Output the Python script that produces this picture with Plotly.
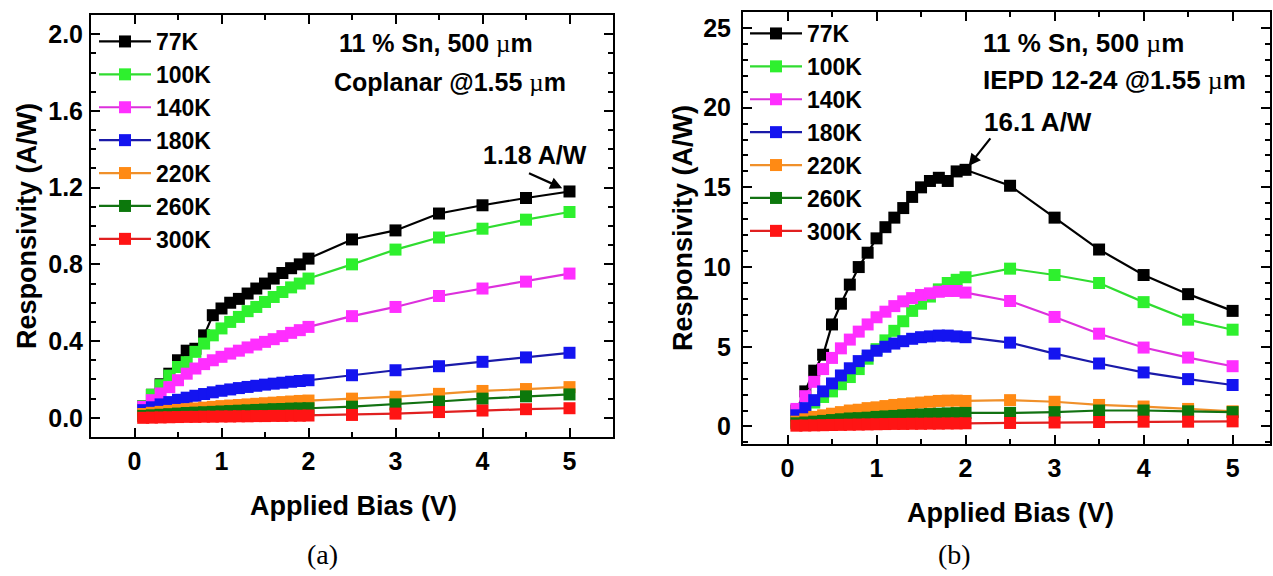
import plotly.graph_objects as go

# ---------------- data ----------------
bias = [0.1, 0.2, 0.3, 0.4, 0.5, 0.6, 0.7, 0.8, 0.9, 1.0,
        1.1, 1.2, 1.3, 1.4, 1.5, 1.6, 1.7, 1.8, 1.9, 2.0,
        2.5, 3.0, 3.5, 4.0, 4.5, 5.0]
temps = ["77K", "100K", "140K", "180K", "220K", "260K", "300K"]

# (a) Coplanar, responsivity (A/W)
a_77K = [0.06, 0.12, 0.175, 0.23, 0.30, 0.35, 0.36, 0.43, 0.535, 0.57,
         0.60, 0.62, 0.648, 0.674, 0.70, 0.726, 0.755, 0.78, 0.80, 0.83,
         0.93, 0.977, 1.065, 1.108, 1.146, 1.18]
a_100K = [0.06, 0.12, 0.17, 0.22, 0.265, 0.29, 0.344, 0.387, 0.43, 0.466,
          0.50, 0.526, 0.556, 0.578, 0.604, 0.63, 0.656, 0.68, 0.70, 0.726,
          0.80, 0.877, 0.94, 0.986, 1.033, 1.073]
a_140K = [0.057, 0.092, 0.127, 0.16, 0.196, 0.23, 0.257, 0.28, 0.30, 0.318,
          0.335, 0.35, 0.367, 0.382, 0.396, 0.41, 0.426, 0.443, 0.457, 0.474,
          0.53, 0.578, 0.635, 0.674, 0.71, 0.752]
a_180K = [0.04, 0.055, 0.07, 0.082, 0.094, 0.105, 0.115, 0.124, 0.133, 0.141,
          0.148, 0.155, 0.161, 0.167, 0.173, 0.178, 0.183, 0.188, 0.192, 0.196,
          0.222, 0.248, 0.269, 0.292, 0.315, 0.339]
a_220K = [0.02, 0.026, 0.031, 0.036, 0.041, 0.045, 0.049, 0.053, 0.057, 0.061,
          0.064, 0.067, 0.070, 0.073, 0.076, 0.079, 0.082, 0.085, 0.088, 0.09,
          0.10, 0.11, 0.125, 0.14, 0.15, 0.16]
a_260K = [0.01, 0.013, 0.016, 0.019, 0.022, 0.025, 0.027, 0.029, 0.031, 0.033,
          0.035, 0.037, 0.039, 0.041, 0.043, 0.045, 0.046, 0.048, 0.049, 0.05,
          0.058, 0.07, 0.085, 0.10, 0.112, 0.122]
a_300K = [0.0, 0.001, 0.002, 0.003, 0.004, 0.005, 0.005, 0.006, 0.006, 0.007,
          0.007, 0.008, 0.008, 0.009, 0.009, 0.01, 0.01, 0.011, 0.011, 0.012,
          0.015, 0.022, 0.03, 0.038, 0.045, 0.05]

# (b) IEPD 12-24, responsivity (A/W)
b_77K = [1.0, 2.2, 3.5, 4.5, 6.4, 7.7, 8.9, 10.0, 10.9, 11.8,
         12.5, 13.1, 13.7, 14.4, 15.0, 15.4, 15.6, 15.4, 16.0, 16.1,
         15.1, 13.1, 11.1, 9.5, 8.3, 7.25]
b_100K = [0.7, 1.1, 1.5, 1.85, 2.2, 2.65, 3.1, 3.6, 4.25, 4.85,
          5.4, 6.0, 6.6, 7.25, 7.7, 8.15, 8.6, 9.0, 9.2, 9.36,
          9.9, 9.5, 9.0, 7.8, 6.7, 6.07]
b_140K = [1.1, 1.9, 2.8, 3.6, 4.3, 4.9, 5.45, 5.95, 6.4, 6.85,
          7.2, 7.55, 7.85, 8.05, 8.25, 8.35, 8.45, 8.5, 8.5, 8.4,
          7.87, 6.87, 5.82, 4.95, 4.32, 3.78]
b_180K = [0.7, 1.15, 1.65, 2.2, 2.7, 3.2, 3.65, 4.1, 4.45, 4.75,
          5.0, 5.2, 5.35, 5.5, 5.6, 5.65, 5.7, 5.7, 5.65, 5.6,
          5.26, 4.57, 3.95, 3.39, 2.97, 2.6]
b_220K = [0.3, 0.45, 0.6, 0.7, 0.8, 0.9, 1.0, 1.05, 1.15, 1.2,
          1.28, 1.35, 1.4, 1.45, 1.5, 1.55, 1.6, 1.62, 1.62, 1.6,
          1.65, 1.55, 1.35, 1.25, 1.1, 0.95]
b_260K = [0.2, 0.25, 0.3, 0.35, 0.4, 0.45, 0.5, 0.52, 0.55, 0.6,
          0.63, 0.66, 0.7, 0.72, 0.75, 0.78, 0.8, 0.82, 0.84, 0.85,
          0.85, 0.9, 1.0, 1.0, 0.95, 0.9]
b_300K = [0.05, 0.06, 0.07, 0.08, 0.09, 0.1, 0.11, 0.12, 0.13, 0.14,
          0.15, 0.16, 0.16, 0.17, 0.17, 0.18, 0.18, 0.19, 0.19, 0.2,
          0.22, 0.25, 0.28, 0.3, 0.3, 0.32]

x_ticks = [0, 1, 2, 3, 4, 5]
ya_ticks = [0.0, 0.4, 0.8, 1.2, 1.6, 2.0]
yb_ticks = [0, 5, 10, 15, 20, 25]

# ---------------- style ----------------
marker_colors = ["#000000", "#2EF02E", "#FF2EFF", "#1414F0", "#FF8A14", "#0C780C", "#FF1414"]
line_colors = ["#000000", "#30DC30", "#DC30DC", "#1A1AA8", "#F0902A", "#127212", "#E02020"]
SANS = "Liberation Sans, Arial, sans-serif"
SERIF = "Liberation Serif, Times New Roman, serif"

W, H = 1273, 576
def px(xp):
    return xp / W
def py(yp):
    return 1 - yp / H

panel_a = [a_77K, a_100K, a_140K, a_180K, a_220K, a_260K, a_300K]
panel_b = [b_77K, b_100K, b_140K, b_180K, b_220K, b_260K, b_300K]

fig = go.Figure()
for i, (name, ys) in enumerate(zip(temps, panel_a)):
    fig.add_trace(go.Scatter(
        x=bias, y=ys, name=name, mode="lines+markers",
        line=dict(color=line_colors[i], width=2.2),
        marker=dict(symbol="square", size=12, color=marker_colors[i], line=dict(width=0)),
        xaxis="x", yaxis="y", legend="legend"))
for i, (name, ys) in enumerate(zip(temps, panel_b)):
    fig.add_trace(go.Scatter(
        x=bias, y=ys, name=name, mode="lines+markers",
        line=dict(color=line_colors[i], width=2.2),
        marker=dict(symbol="square", size=12, color=marker_colors[i], line=dict(width=0)),
        xaxis="x2", yaxis="y2", legend="legend2"))

tickfont = dict(family=SANS, size=25, color="black", weight="bold")
common = dict(showline=True, linecolor="black", linewidth=2, mirror="ticks",
              ticks="inside", ticklen=9, tickwidth=2, tickcolor="black",
              showgrid=False, zeroline=False, tickfont=tickfont)
legfont = dict(family=SANS, size=23, color="black", weight="bold")
minor_x = dict(dtick=0.5, tick0=0, ticks="inside", ticklen=5, tickwidth=2, tickcolor="black")

fig.update_layout(
    width=W, height=H, margin=dict(l=0, r=0, t=0, b=0),
    paper_bgcolor="white", plot_bgcolor="white",
    xaxis=dict(domain=[px(91), px(613)], range=[-0.5, 5.5], anchor="y",
               tickvals=x_ticks, ticklabelstandoff=1, minor=minor_x, **common),
    yaxis=dict(domain=[py(437), py(15)], range=[-0.1, 2.1], anchor="x",
               tickvals=ya_ticks, tickformat=".1f", ticklabelstandoff=1,
               minor=dict(dtick=0.1, tick0=0, ticks="inside", ticklen=5, tickwidth=2, tickcolor="black"),
               **common),
    xaxis2=dict(domain=[px(743), px(1270)], range=[-0.5, 5.42], anchor="y2",
                tickvals=x_ticks, ticklabelstandoff=1, minor=minor_x, **common),
    yaxis2=dict(domain=[py(444), py(12)], range=[-1.1, 26], anchor="x2",
                tickvals=yb_ticks, ticklabelstandoff=5,
                minor=dict(dtick=1, tick0=0, ticks="inside", ticklen=5, tickwidth=2, tickcolor="black"),
                **common),
    legend=dict(x=px(94), y=py(20), xanchor="left", yanchor="top",
                bgcolor="rgba(0,0,0,0)", itemwidth=52, tracegroupgap=0, font=legfont),
    legend2=dict(x=px(745), y=py(12), xanchor="left", yanchor="top",
                 bgcolor="rgba(0,0,0,0)", itemwidth=52, tracegroupgap=0, font=legfont),
    showlegend=True,
)

mu = '<span style="font-family:Liberation Serif;font-weight:normal">µ</span>'
bold = dict(family=SANS, color="black", weight="bold")

def label(text, xp, yp, size, xanchor="center", angle=0, font=None):
    return dict(text=text, x=px(xp), y=py(yp), xref="paper", yref="paper",
                xanchor=xanchor, yanchor="middle", textangle=angle, showarrow=False,
                font=font if font else dict(size=size, **bold))

ann = [
    # axis titles
    label("Applied Bias (V)", 354, 506, 27),
    label("Applied Bias (V)", 1010, 513, 27),
    label("Responsivity (A/W)", 27, 226, 27, angle=-90),
    label("Responsivity (A/W)", 683, 228, 27, angle=-90),
    # sample descriptions
    label(f"11 % Sn, 500 {mu}m", 337, 43, 25, xanchor="left"),
    label(f"Coplanar @1.55 {mu}m", 332, 82, 25, xanchor="left"),
    label(f"11 % Sn, 500 {mu}m", 981, 43, 26, xanchor="left"),
    label(f"IEPD 12-24 @1.55 {mu}m", 981, 80, 26, xanchor="left"),
    # peak callouts
    label("1.18 A/W", 535, 155, 25),
    label("16.1 A/W", 1038, 122, 26),
    # panel captions
    label("(a)", 322, 554, 28, font=dict(family=SERIF, size=28, color="black")),
    label("(b)", 955, 554, 28, font=dict(family=SERIF, size=28, color="black")),
]
ann.append(dict(text="", x=bias[-1], y=a_77K[-1], xref="x", yref="y",
                showarrow=True, ax=-42, ay=-19, axref="pixel", ayref="pixel",
                arrowhead=2, arrowsize=1.1, arrowwidth=2.2, arrowcolor="black", standoff=8))
ann.append(dict(text="", x=bias[19], y=b_77K[19], xref="x2", yref="y2",
                showarrow=True, ax=26, ay=-33, axref="pixel", ayref="pixel",
                arrowhead=2, arrowsize=1.1, arrowwidth=2.2, arrowcolor="black", standoff=5))
fig.update_layout(annotations=ann)

fig.write_html("out.html")
